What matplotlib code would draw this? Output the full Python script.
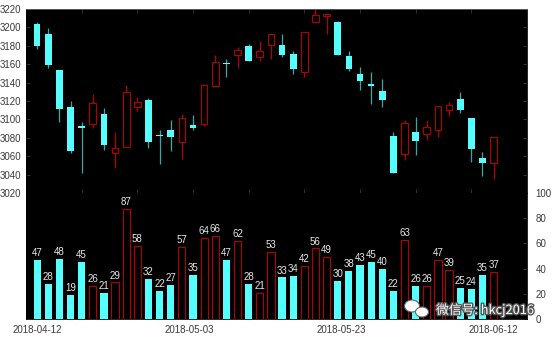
import numpy as np
import matplotlib.pyplot as plt
import matplotlib.patheffects as pe
from matplotlib.patches import Ellipse

# daily OHLC (42 trading days)
opens = [3204, 3193, 3154, 3114, 3093, 3095, 3106, 3064, 3070, 3113,
         3121, 3083, 3089, 3075, 3094, 3095, 3136, 3161, 3170, 3180,
         3168, 3181, 3181, 3171, 3152, 3206, 3212, 3206, 3169, 3149,
         3138, 3131, 3082, 3062, 3086, 3084, 3089, 3110, 3122, 3101,
         3058, 3053]
highs = [3206, 3199, 3154, 3120, 3097, 3128, 3112, 3086, 3137, 3124,
         3123, 3088, 3099, 3106, 3105, 3138, 3170, 3166, 3179, 3182,
         3185, 3194, 3193, 3174, 3195, 3221, 3215, 3207, 3174, 3157,
         3151, 3144, 3086, 3099, 3103, 3099, 3115, 3119, 3130, 3101,
         3065, 3081]
lows = [3177, 3156, 3097, 3064, 3042, 3091, 3067, 3047, 3070, 3109,
        3069, 3051, 3066, 3057, 3088, 3093, 3135, 3146, 3156, 3163,
        3164, 3166, 3168, 3149, 3146, 3206, 3193, 3170, 3153, 3132,
        3117, 3113, 3042, 3056, 3061, 3078, 3081, 3104, 3107, 3054,
        3039, 3035]
closes = [3180, 3159, 3111, 3066, 3091, 3118, 3072, 3069, 3130, 3119,
          3075, 3082, 3081, 3102, 3091, 3137, 3162, 3160, 3175, 3164,
          3174, 3193, 3170, 3155, 3195, 3214, 3215, 3170, 3155, 3142,
          3136, 3121, 3042, 3096, 3076, 3092, 3115, 3116, 3110, 3068,
          3053, 3081]
volumes = [47, 28, 48, 19, 45, 26, 21, 29, 87, 58, 32, 22, 27, 57, 35,
           64, 66, 47, 62, 28, 21, 53, 33, 34, 42, 56, 49, 30, 38, 43,
           45, 40, 22, 63, 26, 26, 47, 39, 25, 24, 35, 37]
date_labels = ["2018-04-12", "2018-05-03", "2018-05-23", "2018-06-12"]

UP = "#b00000"
DOWN = "#55ffff"
DOWN_WICK = "#3aa8a2"
TICK = "#3a3a3a"


def style_axes(ax):
    ax.set_facecolor("black")
    for s in ax.spines.values():
        s.set_color("black")
        s.set_linewidth(0.6)
    ax.tick_params(direction="in", colors="#444444", labelcolor=TICK,
                   labelsize=7, length=3, width=0.5)


def main():
    plt.rcParams["font.family"] = ["Liberation Sans", "DejaVu Sans"]
    fig = plt.figure(figsize=(5.54, 3.38), dpi=100)
    fig.patch.set_facecolor("white")

    left, right = 26 / 554, 527 / 554
    ax1 = fig.add_axes([left, 1 - 193 / 338, right - left, 184 / 338])
    ax2 = fig.add_axes([left, 1 - 319 / 338, right - left, 126 / 338])

    o = np.array(opens)
    h = np.array(highs)
    l = np.array(lows)
    c = np.array(closes)
    v = np.array(volumes)
    x = np.arange(1, len(o) + 1)
    up = c > o

    # 1. candles
    style_axes(ax1)
    ax1.spines["top"].set_color("#666666")
    ax1.vlines(x[up], l[up], h[up], color=UP, lw=0.9, zorder=1)
    ax1.vlines(x[~up], l[~up], h[~up], color=DOWN_WICK, lw=0.9, zorder=1)
    ax1.bar(x[up], (c - o)[up], bottom=o[up], width=0.6,
            facecolor="black", edgecolor=UP, linewidth=0.8, zorder=2)
    ax1.bar(x[~up], (o - c)[~up], bottom=c[~up], width=0.6,
            color=DOWN, linewidth=0, zorder=2)
    ax1.set_xlim(0, 45)
    ax1.set_ylim(3020, 3220)
    ax1.set_yticks(np.arange(3020, 3221, 20))
    ax1.set_xticks(np.arange(5, 45, 5))
    ax1.tick_params(top=True, right=True, labelbottom=False)

    # 2. volume
    style_axes(ax2)
    ax2.bar(x[up], v[up], width=0.65, facecolor="black",
            edgecolor=UP, linewidth=0.8)
    ax2.bar(x[~up], v[~up], width=0.65, color=DOWN, linewidth=0)
    for xi, vi in zip(x, v):
        ax2.text(xi, vi + 1.5, str(vi), ha="center", va="bottom",
                 color="#e8e8e8", fontsize=7)
    ax2.set_xlim(0, 45)
    ax2.set_ylim(0, 100)
    ax2.yaxis.tick_right()
    ax2.set_yticks(np.arange(0, 101, 20))
    ax2.set_xticks(np.linspace(1, 42, 4))
    ax2.set_xticklabels(date_labels)
    ax2.tick_params(axis="x", length=0, pad=4)
    ax2.tick_params(axis="y", pad=6)

    # watermark
    fig.patches.append(Ellipse((412 / 554, 1 - 306 / 338), 15 / 554, 12 / 338,
                               transform=fig.transFigure, facecolor="white",
                               edgecolor="#666666", lw=0.8, zorder=5))
    fig.patches.append(Ellipse((422 / 554, 1 - 312 / 338), 13 / 554, 10 / 338,
                               transform=fig.transFigure, facecolor="white",
                               edgecolor="#666666", lw=0.8, zorder=6))
    fig.text(436 / 554, 1 - 310 / 338, "微信号: hkcj2016", color="white",
             fontsize=9.2, va="center", ha="left", zorder=7,
             family=["Noto Sans CJK SC", "DejaVu Sans"],
             path_effects=[pe.withStroke(linewidth=2, foreground="#555555")])

    fig.savefig("out.png", dpi=100, facecolor="white")


if __name__ == "__main__":
    main()
